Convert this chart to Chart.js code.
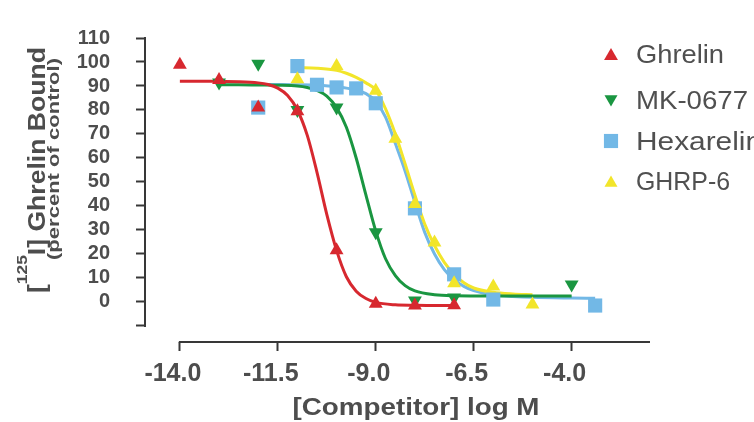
<!DOCTYPE html>
<html><head><meta charset="utf-8">
<script src="https://cdn.jsdelivr.net/npm/chart.js@4/dist/chart.umd.min.js"></script>
<style>html,body{margin:0;padding:0;background:#fff;}canvas{display:block}</style>
</head><body>
<canvas id="c" width="754" height="422"></canvas>
<script>
// ---------- data ----------
const seriesNames  = ['Ghrelin', 'MK-0677', 'Hexarelin', 'GHRP-6'];
const seriesColors = ['#d7282f', '#1a9641', '#72b8e6', '#f2e52a'];

const xTickValues = [-14, -11.5, -9, -6.5, -4];
const yTickValues = [-10, 0, 10, 20, 30, 40, 50, 60, 70, 80, 90, 100, 110];

// measured points
const ghrelinLogM  = [-14, -13, -12, -11, -10, -9, -8, -7];
const ghrelinBound = [98.8, 92.5, 81, 79.5, 21.5, -0.8, -1.5, -1.4];
const mkLogM       = [-13, -12, -11, -10, -9, -8, -7, -4];
const mkBound      = [91.5, 99.3, 80, 81, 29, 0.6, 1.8, 7.3];
const hexLogM      = [-12, -11, -10.5, -10, -9.5, -9, -8, -7, -6, -3.4];
const hexBound     = [81, 98.3, 90.5, 89.4, 89, 82.8, 39, 11.5, 1, -1.5];
const ghrpLogM     = [-11, -10, -9, -8.5, -8, -7.5, -7, -6, -5];
const ghrpBound    = [92.8, 98.3, 88, 68, 40.8, 24.8, 7.8, 6.4, -1.1];

// fitted curves
const ghrelinFitLogM  = [-14, -13.5, -13, -12.5, -12, -11.75, -11.5, -11.25, -11, -10.75, -10.5, -10.25, -10, -9.75, -9.5, -9.25, -9, -8.5, -8, -7.5, -7];
const ghrelinFitBound = [92.0, 92.0, 91.9, 91.8, 91.3, 90.6, 89.1, 86.0, 80.0, 69.5, 54.0, 36.5, 21.5, 10.5, 4.5, 1.4, -0.2, -1.2, -1.4, -1.5, -1.5];
const mkFitLogM  = [-13, -12.5, -12, -11.5, -11, -10.75, -10.5, -10.25, -10, -9.75, -9.5, -9.25, -9, -8.75, -8.5, -8.25, -8, -7.5, -7, -6, -5, -4];
const mkFitBound = [90.5, 90.5, 90.4, 90.3, 90.0, 89.4, 88.2, 85.8, 81.0, 72.8, 60.0, 44.5, 29.5, 18.0, 11.0, 6.8, 4.6, 3.0, 2.6, 2.5, 2.5, 2.5];
const hexFitLogM  = [-12, -11.5, -11, -10.5, -10, -9.5, -9.25, -9, -8.75, -8.5, -8.25, -8, -7.75, -7.5, -7.25, -7, -6.75, -6.5, -6, -5.5, -5, -4, -3.4];
const hexFitBound = [90.6, 90.6, 90.5, 90.3, 89.7, 88.3, 86.8, 83.6, 77.0, 66.0, 54.5, 41.5, 29.0, 20.0, 13.5, 9.3, 6.5, 4.7, 3.0, 2.3, 1.9, 1.6, 1.5];
const ghrpFitLogM  = [-11, -10.5, -10, -9.75, -9.5, -9.25, -9, -8.75, -8.5, -8.25, -8, -7.75, -7.5, -7.25, -7, -6.75, -6.5, -6, -5.5, -5];
const ghrpFitBound = [97.6, 97.4, 96.5, 95.3, 93.6, 91.3, 88.3, 80.5, 70.0, 57.5, 44.5, 32.5, 23.5, 16.5, 11.5, 8.0, 5.8, 4.0, 3.3, 3.0];

const xAxisTitle = '[Competitor] log M';
const yAxisTitleParts = ['[', '125', 'I] Ghrelin Bound'];
const yAxisSubtitle = '(percent of control)';

// ---------- chart ----------
const FONT = "'Liberation Sans', Arial, Helvetica, sans-serif";
const TEXT = '#4d4d4d';
const AXIS = '#383838';
Chart.defaults.font.family = FONT;

const pts = (xs, ys) => xs.map((x, i) => ({x: x, y: ys[i]}));
const markers = [
  {style: 'triangle', rotation: 0,   radius: 8},
  {style: 'triangle', rotation: 180, radius: 8},
  {style: 'rect',     rotation: 0,   radius: 10},
  {style: 'triangle', rotation: 0,   radius: 8}
];
const pointSets = [[ghrelinLogM, ghrelinBound], [mkLogM, mkBound], [hexLogM, hexBound], [ghrpLogM, ghrpBound]];
const fitSets = [[ghrelinFitLogM, ghrelinFitBound], [mkFitLogM, mkFitBound], [hexFitLogM, hexFitBound], [ghrpFitLogM, ghrpFitBound]];
const lineOrder  = [5, 6, 8, 7];
const pointOrder = [1, 3, 4, 2];

const datasets = [];
fitSets.forEach((s, i) => datasets.push({
  type: 'line', label: seriesNames[i] + ' fit', data: pts(s[0], s[1]),
  borderColor: seriesColors[i], borderWidth: 3, pointRadius: 0,
  cubicInterpolationMode: 'monotone', fill: false, order: lineOrder[i], clip: false
}));
pointSets.forEach((s, i) => datasets.push({
  type: 'scatter', label: seriesNames[i], data: pts(s[0], s[1]),
  showLine: false, pointStyle: markers[i].style, rotation: markers[i].rotation,
  pointRadius: markers[i].radius, backgroundColor: seriesColors[i],
  borderColor: seriesColors[i], borderWidth: 0, order: pointOrder[i], clip: false
}));

function drawStretched(ctx, parts, x, y, targetLen, rotate, color, align) {
  let total = 0;
  parts.forEach(p => { ctx.font = p.font; p.w = ctx.measureText(p.text).width; total += p.w; });
  const k = targetLen / total;
  ctx.save();
  ctx.translate(x, y);
  if (rotate) ctx.rotate(-Math.PI / 2);
  ctx.scale(k, 1);
  ctx.fillStyle = color || TEXT;
  ctx.textBaseline = 'alphabetic';
  ctx.textAlign = 'left';
  let cx = align === 'left' ? 0 : -total / 2;
  parts.forEach(p => { ctx.font = p.font; ctx.fillText(p.text, cx, p.dy || 0); cx += p.w; });
  ctx.restore();
}

function drawMarker(ctx, m, color, x, y) {
  ctx.save();
  ctx.fillStyle = color; ctx.strokeStyle = color; ctx.lineWidth = 0;
  if (Chart.helpers && Chart.helpers.drawPoint) {
    Chart.helpers.drawPoint(ctx, {pointStyle: m.style, rotation: m.rotation, radius: m.radius, borderWidth: 0}, x, y);
  }
  ctx.restore();
}

const decor = {
  id: 'decor',
  afterDraw(chart) {
    const ctx = chart.ctx, xs = chart.scales.x, ys = chart.scales.y, a = chart.chartArea;
    // axis lines (offset, Prism style)
    ctx.save();
    ctx.strokeStyle = AXIS; ctx.lineWidth = 2; ctx.lineCap = 'butt';
    ctx.beginPath();
    ctx.moveTo(a.left, ys.getPixelForValue(yTickValues[yTickValues.length - 1]) - 1);
    ctx.lineTo(a.left, ys.getPixelForValue(yTickValues[0]) + 1);
    ctx.stroke();
    ctx.beginPath();
    ctx.moveTo(xs.getPixelForValue(xTickValues[0]) - 1, a.bottom);
    ctx.lineTo(xs.getPixelForValue(xs.max), a.bottom);
    ctx.stroke();
    ctx.restore();
    // axis titles
    drawStretched(ctx, [{text: xAxisTitle, font: 'bold 23px ' + FONT}], 416, 415, 247, false);
    drawStretched(ctx, [
      {text: yAxisTitleParts[0], font: 'bold 23px ' + FONT},
      {text: yAxisTitleParts[1], font: 'bold 15px ' + FONT, dy: -18},
      {text: yAxisTitleParts[2], font: 'bold 23px ' + FONT}
    ], 45, 170, 246, true);
    drawStretched(ctx, [{text: yAxisSubtitle, font: 'bold 17px ' + FONT}], 59, 159, 202, true);
    // legend
    const rows = [54, 100, 141, 181];
    const textLen = [88, 112, 126, 94];
    const lm = [
      {style: 'triangle', rotation: 0, radius: 8},
      {style: 'triangle', rotation: 180, radius: 7.5},
      {style: 'rect', rotation: 0, radius: 10},
      {style: 'triangle', rotation: 0, radius: 7.5}
    ];
    seriesNames.forEach((n, i) => {
      drawMarker(ctx, lm[i], seriesColors[i], 611, rows[i] + (lm[i].style === 'triangle' ? (lm[i].rotation ? -1 : 2) : 0));
      drawStretched(ctx, [{text: n, font: '25px ' + FONT}], 636, rows[i] + 9, textLen[i], false, '#505050', 'left');
    });
  }
};

new Chart(document.getElementById('c'), {
  type: 'scatter',
  data: {datasets: datasets},
  options: {
    responsive: false, animation: false, events: [],
    layout: {padding: {left: 0, top: 24, right: 104, bottom: 0}},
    plugins: {legend: {display: false}, tooltip: {enabled: false}, title: {display: false}},
    scales: {
      x: {
        type: 'linear', min: -14.89, max: -2,
        afterBuildTicks: s => { s.ticks = xTickValues.map(v => ({value: v})); },
        afterFit: s => { s.height = 80; },
        grid: {display: true, drawOnChartArea: false, drawTicks: true, tickLength: 9, tickColor: AXIS, tickWidth: 2},
        border: {display: false},
        ticks: {color: TEXT, font: {size: 25, weight: 'bold'}, padding: 8, labelOffset: -7, maxRotation: 0,
                autoSkip: false, callback: v => Number(v).toFixed(1)}
      },
      y: {
        type: 'linear', min: -16.7, max: 110,
        afterBuildTicks: s => { s.ticks = yTickValues.map(v => ({value: v})); },
        afterFit: s => { s.width = 145; },
        grid: {display: true, drawOnChartArea: false, drawTicks: true, tickLength: 9, tickColor: AXIS, tickWidth: 2},
        border: {display: false},
        ticks: {color: TEXT, font: {size: 20, weight: 'bold'}, padding: 26, autoSkip: false,
                callback: v => (v < 0 ? '' : String(v))}
      }
    }
  },
  plugins: [decor]
});
</script>
</body></html>
